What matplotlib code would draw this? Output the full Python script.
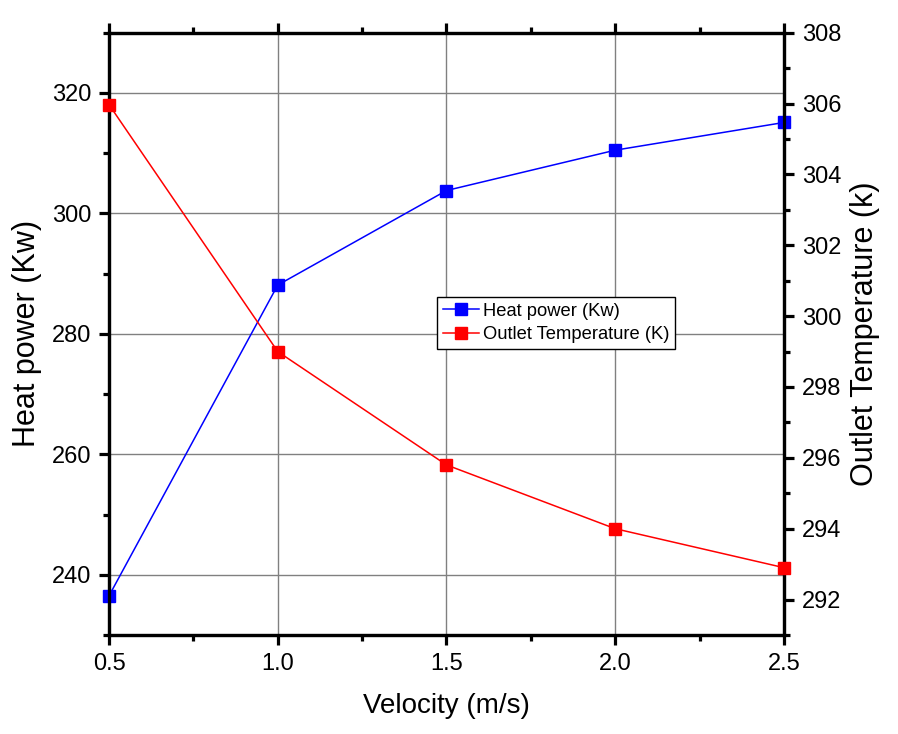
import matplotlib.pyplot as plt
from matplotlib.ticker import MultipleLocator

plt.rcParams['font.family'] = ['Liberation Sans', 'DejaVu Sans']

velocity = [0.5, 1.0, 1.5, 2.0, 2.5]
heat_power = [236.5, 288.1, 303.8, 310.5, 315.1]
outlet_temp = [305.97, 299.0, 295.8, 294.0, 292.9]

fig = plt.figure(figsize=(8.98, 7.34), dpi=100)
ax = fig.add_axes([0.1214, 0.1349, 0.7516, 0.8205])
ax2 = ax.twinx()

l1, = ax.plot(velocity, heat_power, color='blue', lw=1.1, marker='s', ms=8,
              clip_on=False, zorder=3, label='Heat power (Kw)')
l2, = ax2.plot(velocity, outlet_temp, color='red', lw=1.1, marker='s', ms=8,
               clip_on=False, zorder=3, label='Outlet Temperature (K)')

ax.set_xlim(0.5, 2.5)
ax.set_ylim(230, 330)
ax2.set_ylim(291, 308)

ax.xaxis.set_major_locator(MultipleLocator(0.5))
ax.xaxis.set_minor_locator(MultipleLocator(0.25))
ax.yaxis.set_major_locator(MultipleLocator(20))
ax.yaxis.set_minor_locator(MultipleLocator(10))
ax2.yaxis.set_major_locator(MultipleLocator(2))
ax2.yaxis.set_minor_locator(MultipleLocator(1))
ax.xaxis.set_major_formatter(plt.FormatStrFormatter('%.1f'))

ax.grid(True, which='major', color='#808080', lw=1.0)
ax.set_axisbelow(True)

for a in (ax, ax2):
    for s in a.spines.values():
        s.set_linewidth(2.3)
ax.tick_params(which='major', direction='out', length=7, width=2.3, labelsize=17,
               top=True, pad=6)
ax.tick_params(which='minor', direction='out', length=4, width=2.3, top=True)
ax2.tick_params(which='major', direction='out', length=7, width=2.3, labelsize=17, pad=6)
ax2.tick_params(which='minor', direction='out', length=4, width=2.3)

ax.set_xlabel('Velocity (m/s)', fontsize=20, labelpad=13)
ax.set_ylabel('Heat power (Kw)', fontsize=22, labelpad=7)
ax2.set_ylabel('Outlet Temperature (k)', fontsize=22, labelpad=6)

leg = ax2.legend([l1, l2], [l1.get_label(), l2.get_label()], loc='upper left',
                 bbox_to_anchor=(0.486, 0.561), fontsize=13.2, fancybox=False,
                 framealpha=1, edgecolor='black', handlelength=2.0,
                 handletextpad=0.2, borderpad=0.3, labelspacing=0.35,
                 borderaxespad=0)
leg.get_frame().set_linewidth(1.0)

fig.savefig('out.png', dpi=100)
